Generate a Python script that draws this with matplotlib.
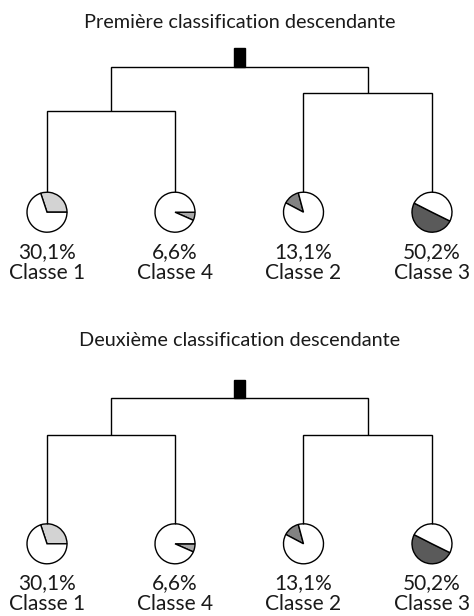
import matplotlib
matplotlib.use("Agg")
import matplotlib.pyplot as plt
from matplotlib.patches import Rectangle

# Données
titres = ["Première classification descendante", "Deuxième classification descendante"]
classes = ["Classe 1", "Classe 4", "Classe 2", "Classe 3"]
pourcentages = [30.1, 6.6, 13.1, 50.2]
# hauteur des noeuds : [racine, groupe gauche (1,4), groupe droit (2,3)], racine = 1
hauteurs = [[1.0, 0.647, 0.793],
            [1.0, 0.706, 0.706]]

# Style
couleurs = ["#d3d3d3", "#a9a9a9", "#828282", "#5a5a5a"]
angles_depart = [0, -23.8, 105, 153]

W, H = 474, 616
x_feuilles = [47, 175, 303.5, 432]
rayon = 20
hauteur_arbre = 125.5  # px entre la racine et le haut des camemberts
lw = 1.0

plt.rcParams["font.family"] = ["Lato", "DejaVu Sans"]
fig = plt.figure(figsize=(W / 100, H / 100), dpi=100)
ax = fig.add_axes([0, 0, 1, 1])


def dessiner_panneau(titre, h, y_titre, y_racine):
    y_feuille = y_racine - hauteur_arbre
    x0, x1, x2, x3 = x_feuilles
    g = (x0 + x1) / 2
    d = (x2 + x3) / 2
    r = (g + d) / 2
    y_g = y_feuille + h[1] * hauteur_arbre
    y_d = y_feuille + h[2] * hauteur_arbre
    y_r = y_feuille + h[0] * hauteur_arbre

    kw = dict(color="black", lw=lw, solid_joinstyle="miter", solid_capstyle="butt")
    ax.plot([x0, x0, x1, x1], [y_feuille, y_g, y_g, y_feuille], **kw)
    ax.plot([x2, x2, x3, x3], [y_feuille, y_d, y_d, y_feuille], **kw)
    ax.plot([g, g, d, d], [y_g, y_r, y_r, y_d], **kw)
    ax.add_patch(Rectangle((r - 5.3, y_r), 10.7, 18.3, color="black"))

    ax.text(r, y_titre, titre, ha="center", va="baseline", fontsize=14.3,
            color="#1a1a1a")

    yc = y_feuille - rayon
    for x, p, c, a, nom in zip(x_feuilles, pourcentages, couleurs, angles_depart, classes):
        ax.pie([p, 100 - p], colors=[c, "white"], startangle=a, counterclock=True,
               center=(x, yc), radius=rayon,
               wedgeprops=dict(edgecolor="black", linewidth=lw))
        ax.text(x, yc - 45.7, f"{p:.1f}%".replace(".", ","), ha="center",
                va="baseline", fontsize=15, color="#1a1a1a")
        ax.text(x, yc - 66.7, nom, ha="center", va="baseline", fontsize=15,
                color="#1a1a1a")


dessiner_panneau(titres[0], hauteurs[0], H - 28.3, H - 66.7)
dessiner_panneau(titres[1], hauteurs[1], H - 346, H - 398.3)

ax.set_xlim(0, W)
ax.set_ylim(0, H)
ax.set_aspect("auto")
ax.set_axis_off()

fig.savefig("out.png", dpi=100)
